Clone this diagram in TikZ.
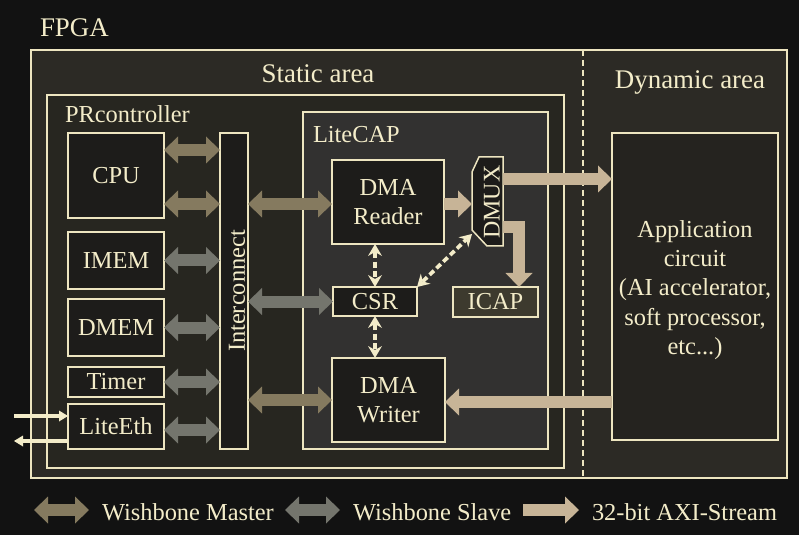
\documentclass[tikz,border=0pt]{standalone}
\usepackage{fontspec}
\setmainfont{Liberation Serif}
\usetikzlibrary{arrows.meta}
\definecolor{bgc}{HTML}{121212}
\definecolor{fpgac}{HTML}{2C2A25}
\definecolor{statc}{HTML}{272620}
\definecolor{capc}{HTML}{323130}
\definecolor{boxc}{HTML}{1D1C1A}
\definecolor{appc}{HTML}{25231F}
\definecolor{icapc}{HTML}{3D3A2E}
\definecolor{bdc}{HTML}{EDE5C0}
\definecolor{txc}{HTML}{F3ECC9}
\definecolor{mastc}{HTML}{857A5F}
\definecolor{slavc}{HTML}{74756D}
\definecolor{strc}{HTML}{C7B497}
\newcommand\myBody{\fontsize{24.5}{29.5}\selectfont}
\newcommand\myHead{\fontsize{27}{32}\selectfont}
\begin{document}
\begin{tikzpicture}[x=1bp,y=-1bp,
  region/.style={draw=bdc,line width=1.5bp,inner sep=0,outer sep=0},
  blk/.style={draw=bdc,line width=1.5bp,fill=boxc,inner sep=0,outer sep=0,text=txc,font=\myBody,align=center},
  lbl/.style={inner sep=0,outer sep=0,text=txc,font=\myBody},
  hlbl/.style={inner sep=0,outer sep=0,text=txc,font=\myHead},
  fat/.tip={Triangle[length=14bp,width=27bp,line width=0pt]},
  ctip/.tip={Stealth[length=12bp,width=14bp,inset=4bp,line width=0pt]},
  etip/.tip={Triangle[length=9bp,width=11bp,line width=0pt]},
  master/.style={draw=mastc,line width=12bp,fat-fat},
  slave/.style={draw=slavc,line width=12bp,fat-fat},
  stream/.style={draw=strc,line width=12bp,-fat},
  ctrl/.style={draw=txc,line width=3.8bp,dash pattern=on 6bp off 3.5bp,ctip-ctip},
  eth/.style={draw=txc,line width=3.5bp,-etip}]
\fill[bgc] (0,0) rectangle (799,535);
\useasboundingbox (0,0) rectangle (799,535);

% containers
\node[region,fill=fpgac,minimum width=756bp,minimum height=428bp] (fpga) at (409,264) {};
\node[region,fill=statc,minimum width=517bp,minimum height=373bp] (static) at (305.5,281.5) {};
\node[region,fill=capc,minimum width=245bp,minimum height=337bp] (litecap) at (425.5,280.5) {};
\coordinate (dashx) at (583,0);
\draw[bdc,line width=1.5bp,dash pattern=on 6bp off 4bp] (fpga.north -| dashx) -- (fpga.south -| dashx);

% labels
\node[hlbl,anchor=base west] (fpgalbl) at (40,37) {FPGA};
\node[hlbl,anchor=base] (statlbl) at (318,83) {Static area};
\node[hlbl,anchor=base] (dynlbl) at (690,89) {Dynamic area};
\node[lbl,anchor=base west] (prlbl) at (65,123) {PRcontroller};
\node[lbl,anchor=base west] (lclbl) at (313,143) {LiteCAP};

% PRcontroller blocks
\node[blk,minimum width=96bp,minimum height=85bp] (cpu) at (116,175.5) {CPU};
\node[blk,minimum width=96bp,minimum height=57bp] (imem) at (116,260.5) {IMEM};
\node[blk,minimum width=96bp,minimum height=57bp] (dmem) at (116,327.5) {DMEM};
\node[blk,minimum width=96bp,minimum height=30bp] (timer) at (116,382) {Timer};
\node[blk,minimum width=96bp,minimum height=45bp] (liteeth) at (116,426.5) {LiteEth};
\node[blk,minimum width=28bp,minimum height=316bp] (ic) at (234,291) {};
\node[lbl,rotate=90] (iclbl) at (237,291) {Interconnect};

% LiteCAP blocks
\node[blk,minimum width=112bp,minimum height=84bp] (reader) at (388,202) {DMA\\Reader};
\node[blk,minimum width=84bp,minimum height=29bp] (csr) at (375,301.5) {CSR};
\node[blk,minimum width=113bp,minimum height=84bp] (writer) at (388.5,400) {DMA\\Writer};
\node[blk,fill=icapc,minimum width=85bp,minimum height=30bp] (icap) at (495.5,302) {ICAP};
\node[inner sep=0,outer sep=0,minimum width=31bp,minimum height=89bp] (dmux) at (487.5,201.5) {};
\draw[draw=bdc,line width=1.5bp,fill=boxc] ([xshift=7bp]dmux.north west) -- (dmux.north east) -- (dmux.south east) -- ([xshift=15bp]dmux.south west) -- ([yshift=16bp]dmux.south west) -- ([yshift=-15bp]dmux.north west) -- cycle;
\node[lbl,rotate=90,font=\fontsize{24}{28}\selectfont] (dmuxlbl) at (492,202) {DMUX};

% application
\node[blk,fill=appc,minimum width=166bp,minimum height=307bp] (app) at (695,286.5) {};
\node[lbl,align=center] (applbl) at (695,290) {Application\\circuit\\(AI accelerator,\\soft processor,\\etc...)};

% level coordinates
\coordinate (m1) at (0,150);
\coordinate (m2) at (0,204);
\coordinate (s4) at (0,430);
\coordinate (yrd) at (0,204);
\coordinate (ywr) at (0,400);
\coordinate (yapp) at (0,179);
\coordinate (ywin) at (0,402);
\coordinate (yicap) at (0,227.5);
\coordinate (xicap) at (519,0);

% bus arrows
\draw[master] (cpu.east |- m1) -- (ic.west |- m1);
\draw[master] (cpu.east |- m2) -- (ic.west |- m2);
\draw[slave] (imem.east) -- (imem.east -| ic.west);
\draw[slave] (dmem.east) -- (dmem.east -| ic.west);
\draw[slave] (timer.east) -- (timer.east -| ic.west);
\draw[slave] (liteeth.east |- s4) -- (ic.west |- s4);
\draw[master] (ic.east |- yrd) -- (reader.west |- yrd);
\draw[slave] (ic.east |- csr.west) -- (csr.west);
\draw[master] (ic.east |- ywr) -- (writer.west |- ywr);

% streams
\draw[stream] (reader.east |- yrd) -- (dmux.west |- yrd);
\draw[stream] (dmux.east |- yapp) -- (app.west |- yapp);
\draw[stream] (app.west |- ywin) -- (writer.east |- ywin);
\draw[stream] (dmux.east |- yicap) -| (icap.north -| xicap);

% control
\draw[ctrl] (reader.south -| csr.north) -- (csr.north);
\draw[ctrl] (csr.south) -- (csr.south |- writer.north);
\draw[ctrl] (csr.north east) -- ([yshift=12bp]dmux.south west);

% ethernet
\coordinate (ethin) at (14,416);
\coordinate (ethout) at (14,441);
\draw[eth] (ethin) -- (liteeth.west |- ethin);
\draw[eth] (liteeth.west |- ethout) -- (ethout);

% legend
\coordinate (la) at (34,510);
\coordinate (lb) at (89,510);
\coordinate (lc) at (285,510);
\coordinate (ld) at (340,510);
\coordinate (le) at (523,510);
\coordinate (lf) at (579,510);
\draw[master] (la) -- (lb);
\draw[slave] (lc) -- (ld);
\draw[stream] (le) -- (lf);
\node[lbl,anchor=base west] (lgm) at (102,520.5) {Wishbone Master};
\node[lbl,anchor=base west] (lgs) at (353,520.5) {Wishbone Slave};
\node[lbl,anchor=base west] (lga) at (592,520.5) {32-bit AXI-Stream};
\end{tikzpicture}
\end{document}
